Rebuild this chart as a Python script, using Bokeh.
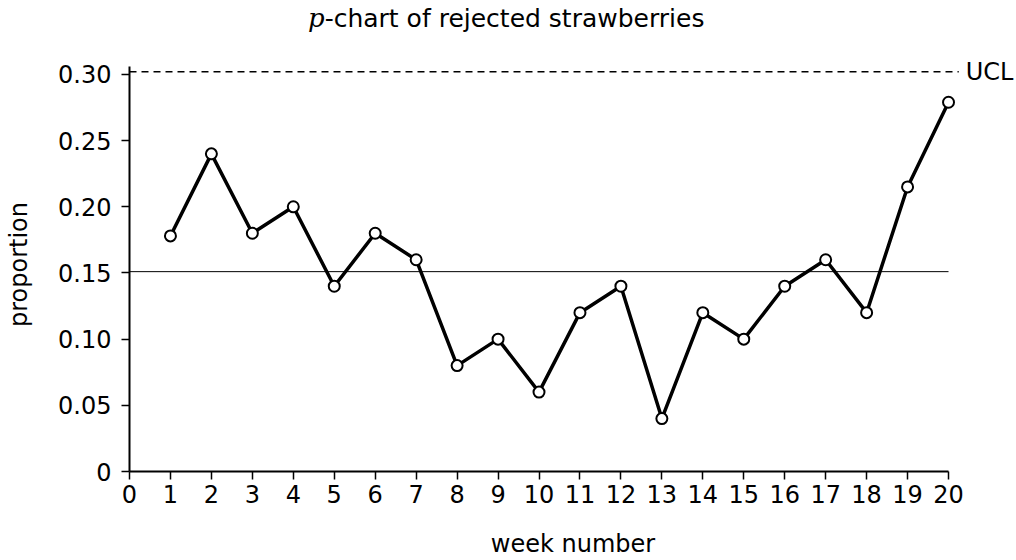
from bokeh.plotting import figure
from bokeh.models import Range1d, FixedTicker, ColumnDataSource, Div
from bokeh.layouts import column
from bokeh.core.properties import value
from bokeh.embed import file_html
from bokeh.resources import INLINE

# ---- data ----
weeks = list(range(1, 21))
proportion = [0.178, 0.24, 0.18, 0.20, 0.14, 0.18, 0.16, 0.08, 0.10, 0.06,
              0.12, 0.14, 0.04, 0.12, 0.10, 0.14, 0.16, 0.12, 0.215, 0.279]
center_line = 0.151
ucl = 0.302
x_ticks = list(range(0, 21))
y_ticks = [0, 0.05, 0.10, 0.15, 0.20, 0.25, 0.30]
y_tick_labels = ["0", "0.05", "0.10", "0.15", "0.20", "0.25", "0.30"]
title_italic = "p"
title_rest = "-chart of rejected strawberries"
x_label = "week number"
y_label = "proportion"
ucl_label = "UCL"

FONT = "DejaVu Sans"
FS = "24px"

TITLE_H = 46
title = Div(
    text=('<div style="font-family:\'DejaVu Sans\';font-size:25px;line-height:25px;'
          'padding-top:6px;padding-left:308px;color:black;white-space:nowrap;">'
          '<span style="font-family:\'DejaVu Serif\';font-style:italic;font-size:26px;">'
          + title_italic + '</span>' + title_rest + '</div>'),
    width=1016, height=TITLE_H, margin=(0, 0, 0, 0))

p = figure(width=1016, height=560 - TITLE_H, output_backend="svg", toolbar_location=None,
           x_range=Range1d(0, 21.66), y_range=Range1d(0, 0.3128),
           min_border_left=129, min_border_right=0, min_border_top=11,
           min_border_bottom=88, margin=(0, 0, 0, 0))
p.outline_line_color = None
p.grid.visible = False
p.background_fill_color = "white"
p.border_fill_color = "white"

src = ColumnDataSource(dict(x=weeks, y=proportion))

# reference lines
p.line(x=[0, 20], y=[center_line, center_line], line_color="black", line_width=1)
p.line(x=[0, 20.25], y=[ucl, ucl], line_color="black", line_width=1.5, line_dash="7 5")
p.text(x=[20.42], y=[ucl], text=[ucl_label], text_font=value(FONT),
       text_font_size=FS, text_baseline="middle", text_align="left", text_color="black")

# data
p.line("x", "y", source=src, line_color="black", line_width=3.5)
p.scatter("x", "y", source=src, size=11, fill_color="white", line_color="black", line_width=2)

# axes
xa = p.xaxis[0]
xa.bounds = (0, 20)
xa.ticker = FixedTicker(ticks=x_ticks)
xa.minor_tick_line_color = None
xa.major_tick_in = 0
xa.major_tick_out = 8
xa.major_tick_line_width = 1.5
xa.axis_line_width = 2
xa.major_label_text_font = FONT
xa.major_label_text_font_size = FS
xa.major_label_text_color = "black"
xa.major_label_standoff = 5
xa.axis_label = x_label
xa.axis_label_text_font = FONT
xa.axis_label_text_font_size = FS
xa.axis_label_text_font_style = "normal"
xa.axis_label_text_color = "black"
xa.axis_label_standoff = 24

ya = p.yaxis[0]
ya.bounds = (0, 0.306)
ya.ticker = FixedTicker(ticks=y_ticks)
ya.major_label_overrides = {t: l for t, l in zip(y_ticks, y_tick_labels)}
ya.minor_tick_line_color = None
ya.major_tick_in = 0
ya.major_tick_out = 8
ya.major_tick_line_width = 1.5
ya.axis_line_width = 2
ya.major_label_text_font = FONT
ya.major_label_text_font_size = FS
ya.major_label_text_color = "black"
ya.major_label_standoff = 10
ya.axis_label = y_label
ya.axis_label_text_font = FONT
ya.axis_label_text_font_size = FS
ya.axis_label_text_font_style = "normal"
ya.axis_label_text_color = "black"
ya.axis_label_standoff = 22

layout = column(title, p, spacing=0)
open("out.html", "w").write(file_html(layout, INLINE))
